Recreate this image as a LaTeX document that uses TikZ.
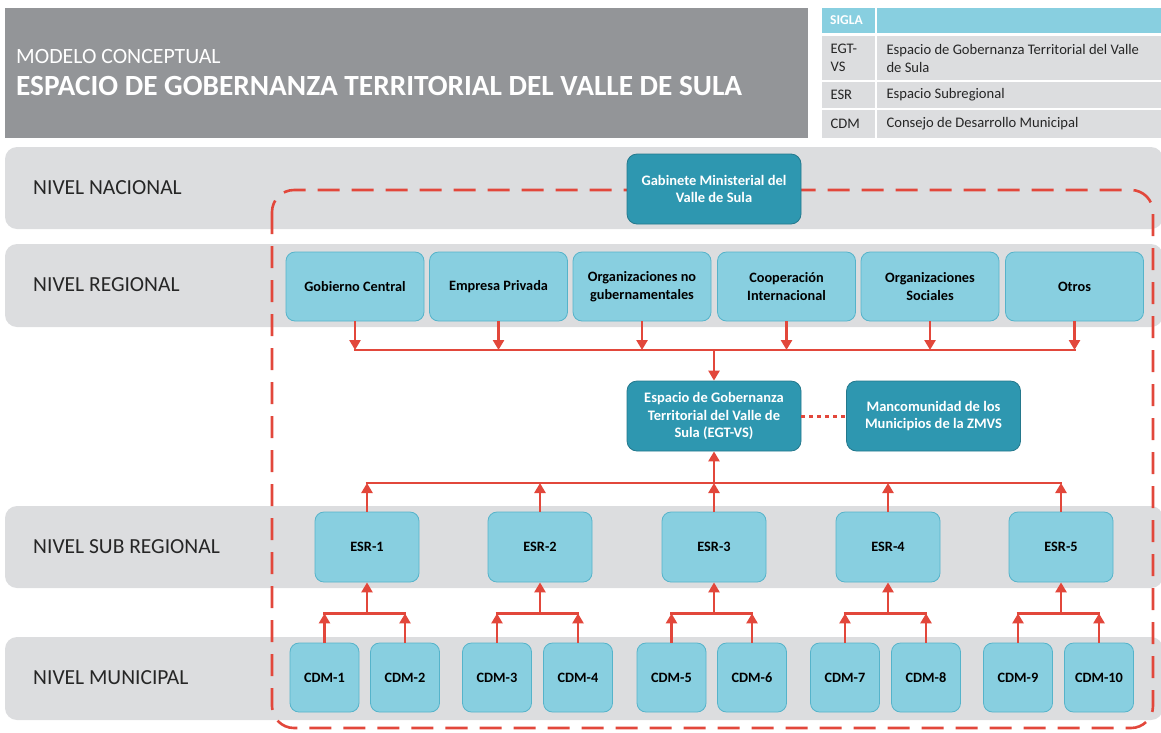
\documentclass[tikz,border=0pt]{standalone}
\usepackage{fontspec}
\setmainfont{Carlito}
\usetikzlibrary{arrows.meta,calc}
\definecolor{titlegray}{HTML}{939598}
\definecolor{bandgray}{HTML}{DCDDDF}
\definecolor{lblue}{HTML}{88CFE0}
\definecolor{lbord}{HTML}{55B3CA}
\definecolor{teal}{HTML}{2E97B0}
\definecolor{tealbord}{HTML}{24788C}
\definecolor{redc}{HTML}{E2473B}
\tikzset{
  band/.style={fill=bandgray, draw=none, rounded corners=12pt},
  bandlabel/.style={anchor=west, font=\fontsize{21.5}{24}\selectfont, text=black!85},
  lbox/.style={rounded corners=9pt, fill=lblue, draw=lbord, line width=0.8pt, align=center,
    font=\bfseries\fontsize{14.3}{17.5}\selectfont, inner sep=2pt},
  dbox/.style={rounded corners=10pt, fill=teal, draw=tealbord, line width=0.8pt, align=center,
    font=\bfseries\fontsize{14.5}{17.5}\selectfont, text=white, inner sep=2pt,
    minimum width=174pt, minimum height=70pt},
  regbox/.style={lbox, minimum width=138pt, minimum height=69pt},
  esrbox/.style={lbox, minimum width=104pt, minimum height=70pt},
  cdmbox/.style={lbox, minimum width=69pt, minimum height=69pt},
  redline/.style={draw=redc, line width=2.8pt},
  arr/.style={redline, -{Triangle[length=10pt,width=11pt]}},
  tabtxt/.style={anchor=west, font=\fontsize{14.6}{18}\selectfont, text=black!85, align=left},
}
\begin{document}
\begin{tikzpicture}[x=1pt,y=-1pt]
\useasboundingbox (0,0) rectangle (1161,732);
% title
\fill[titlegray] (5,8) rectangle (808,138);
\node[anchor=west, text=white, font=\fontsize{21.8}{24}\selectfont, inner sep=0pt] (t1) at (16,57) {MODELO CONCEPTUAL};
\node[anchor=west, text=white, font=\bfseries\fontsize{29.3}{32}\selectfont, inner sep=0pt] (t2) at (16,86) {ESPACIO DE GOBERNANZA TERRITORIAL DEL VALLE DE SULA};
% table
\fill[lblue] (822,8) rectangle (1161,33);
\fill[bandgray] (822,36) rectangle (1161,80);
\fill[bandgray] (822,82) rectangle (1161,108);
\fill[bandgray] (822,110) rectangle (1161,138);
\draw[white, line width=1.2pt] (876,8) -- (876,138);
\node[anchor=west, text=white, font=\bfseries\fontsize{13.5}{15}\selectfont, inner sep=0pt] (sg) at (830,20) {SIGLA};
\node[tabtxt] (a1) at (827,58) {EGT-\\VS};
\node[tabtxt] (d1) at (883,58) {Espacio de Gobernanza Territorial del Valle\\de Sula};
\node[tabtxt] (a2) at (827,95) {ESR};
\node[tabtxt] (d2) at (883,95) {Espacio Subregional};
\node[tabtxt] (a3) at (827,124) {CDM};
\node[tabtxt] (d3) at (883,124) {Consejo de Desarrollo Municipal};
% bands
\path[band] (5,147) rectangle (1163,229);
\path[band] (5,244) rectangle (1163,327);
\path[band] (5,506) rectangle (1163,588);
\path[band] (5,637) rectangle (1163,720);
\node[bandlabel, inner sep=0pt] (ln) at (33,188) {NIVEL NACIONAL};
\node[bandlabel, inner sep=0pt] (lr) at (33,285) {NIVEL REGIONAL};
\node[bandlabel, inner sep=0pt] (ls) at (33,547) {NIVEL SUB REGIONAL};
\node[bandlabel, inner sep=0pt] (lm) at (33,678) {NIVEL MUNICIPAL};
% dashed frame
\draw[redc, line width=2.6pt, dash pattern=on 22pt off 12pt, rounded corners=22pt] (272,190) rectangle (1153,728);
% nodes
\node[dbox] (gab) at (714,189) {Gabinete Ministerial del\\Valle de Sula};
\node[regbox] (gc) at (355,286.5) {Gobierno Central};
\node[regbox] (ep) at (498.5,286.5) {Empresa Privada};
\node[regbox] (ong) at (642,286.5) {Organizaciones no\\gubernamentales};
\node[regbox] (ci) at (786.5,286.5) {Cooperación\\Internacional};
\node[regbox] (os) at (930,286.5) {Organizaciones\\Sociales};
\node[regbox] (ot) at (1074.5,286.5) {Otros};
\node[dbox] (egt) at (714,416) {Espacio de Gobernanza\\Territorial del Valle de\\Sula (EGT-VS)};
\node[dbox] (man) at (933.5,416) {Mancomunidad de los\\Municipios de la ZMVS};
\node[esrbox] (e1) at (367,547) {ESR-1};
\node[esrbox] (e2) at (540,547) {ESR-2};
\node[esrbox] (e3) at (714,547) {ESR-3};
\node[esrbox] (e4) at (888,547) {ESR-4};
\node[esrbox] (e5) at (1061,547) {ESR-5};
\node[cdmbox] (c1) at (324.5,677.5) {CDM-1};
\node[cdmbox] (c2) at (405,677.5) {CDM-2};
\node[cdmbox] (c3) at (497,677.5) {CDM-3};
\node[cdmbox] (c4) at (578,677.5) {CDM-4};
\node[cdmbox] (c5) at (671.5,677.5) {CDM-5};
\node[cdmbox] (c6) at (752,677.5) {CDM-6};
\node[cdmbox] (c7) at (845,677.5) {CDM-7};
\node[cdmbox] (c8) at (926,677.5) {CDM-8};
\node[cdmbox] (c9) at (1018,677.5) {CDM-9};
\node[cdmbox] (c10) at (1099,677.5) {CDM-10};
% regional bus
\coordinate (busR) at (714,350);
\foreach \n in {gc,ep,ong,ci,os,ot} {
  \draw[arr] (\n.south) -- (\n.south |- busR);
}
\draw[redline] ([xshift=-1.4pt]gc.south |- busR) -- ([xshift=1.4pt]ot.south |- busR);
\draw[arr] (busR) -- (egt.north);
% dotted link
\draw[redc, line width=3pt, dash pattern=on 4pt off 4pt] (egt.east) -- (man.west);
% subregional bus
\coordinate (busS) at (714,483);
\foreach \n in {e1,e2,e3,e4,e5} {
  \draw[arr] (\n.north) -- (\n.north |- busS);
}
\draw[redline] ([xshift=-1.4pt]e1.north |- busS) -- ([xshift=1.4pt]e5.north |- busS);
\draw[arr] (busS) -- (egt.south);
% municipal buses
\foreach \a/\b/\e in {c1/c2/e1, c3/c4/e2, c5/c6/e3, c7/c8/e4, c9/c10/e5} {
  \coordinate (m\e) at ($(\e.south)+(0,31)$);
  \draw[arr] (\a.north) -- (\a.north |- m\e);
  \draw[arr] (\b.north) -- (\b.north |- m\e);
  \draw[redline] ([xshift=-1.4pt]\a.north |- m\e) -- ([xshift=1.4pt]\b.north |- m\e);
  \draw[arr] (m\e) -- (\e.south);
}
\end{tikzpicture}
\end{document}
